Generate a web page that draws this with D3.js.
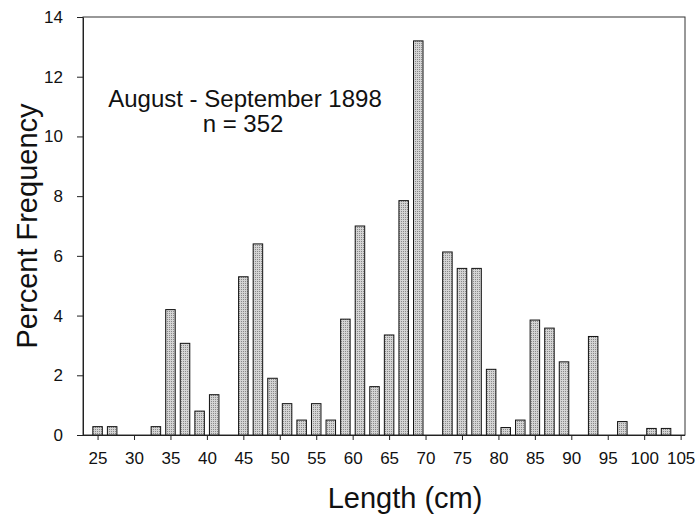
<!DOCTYPE html>
<meta charset="utf-8">
<style>
  body { margin: 0; background: #fff; }
  text { font-family: "Liberation Sans", Arial, sans-serif; fill: #111; }
  .bar { fill: url(#stipple); stroke: #111; stroke-width: 1px; }
  .axis path, .axis line { stroke: #222; }
</style>
<body>
<script src="https://d3js.org/d3.v7.min.js"></script>
<script>
  // length classes (cm) and percent frequency
  var lengths = [25, 27, 29, 31, 33, 35, 37, 39, 41, 43, 45, 47, 49, 51, 53, 55, 57, 59, 61, 63,
    65, 67, 69, 71, 73, 75, 77, 79, 81, 83, 85, 87, 89, 91, 93, 95, 97, 99, 101, 103];
  var percents = [0.28, 0.28, 0, 0, 0.28, 4.2, 3.07, 0.8, 1.35, 0, 5.3, 6.4, 1.9, 1.05, 0.5, 1.05, 0.5, 3.88, 7.0, 1.62,
    3.35, 7.85, 13.2, 0, 6.13, 5.58, 5.58, 2.2, 0.25, 0.5, 3.85, 3.58, 2.45, 0, 3.3, 0, 0.45, 0, 0.22, 0.22];
  var xTicks = [25, 30, 35, 40, 45, 50, 55, 60, 65, 70, 75, 80, 85, 90, 95, 100, 105];
  var yTicks = [0, 2, 4, 6, 8, 10, 12, 14];

  var data = lengths.map(function(d, i) {
    return { len: d, pct: percents[i] };
  });

  var margin = { top: 17, right: 14, bottom: 81, left: 83 },
    width = 699 - margin.left - margin.right,
    height = 516 - margin.top - margin.bottom;

  var x = d3.scaleLinear().domain([23, 105.6]).range([0, width]);
  var y = d3.scaleLinear().domain([0, 14]).range([height, 0]);
  var barW = 9.5;

  var svg = d3.select("body").append("svg")
    .attr("width", 699)
    .attr("height", 516);

  // stipple fill like the scanned print
  var pat = svg.append("defs").append("pattern")
    .attr("id", "stipple")
    .attr("width", 2).attr("height", 2)
    .attr("patternUnits", "userSpaceOnUse");
  pat.append("rect").attr("width", 2).attr("height", 2).attr("fill", "#d4d4d4");
  pat.append("rect").attr("width", 1).attr("height", 1).attr("fill", "#8a8a8a");

  var g = svg.append("g")
    .attr("transform", "translate(" + margin.left + "," + margin.top + ")");

  // frame
  g.append("rect")
    .attr("width", width)
    .attr("height", height)
    .attr("fill", "none")
    .attr("stroke", "#333")
    .attr("stroke-width", 1);

  g.selectAll(".bar")
    .data(data.filter(function(d) { return d.pct > 0; }))
    .enter().append("rect")
    .attr("class", "bar")
    .attr("x", function(d) { return x(d.len) - barW / 2; })
    .attr("y", function(d) { return y(d.pct); })
    .attr("width", barW)
    .attr("height", function(d) { return y(0) - y(d.pct); });

  // X axis
  var xAxis = g.append("g")
    .attr("class", "axis")
    .attr("transform", "translate(0," + height + ")")
    .call(d3.axisBottom(x).tickValues(xTicks).tickSize(5).tickSizeOuter(0).tickPadding(12));
  xAxis.select(".domain").attr("d", "M-5,0.5H" + width);
  xAxis.selectAll("text").style("font-size", "17px");

  // Y axis
  var yAxis = g.append("g")
    .attr("class", "axis")
    .call(d3.axisLeft(y).tickValues(yTicks).tickSize(6).tickSizeOuter(0).tickPadding(14));
  yAxis.selectAll("text").style("font-size", "17px");

  // axis titles
  svg.append("text")
    .attr("x", 405)
    .attr("y", 508)
    .attr("text-anchor", "middle")
    .style("font-size", "29px")
    .text("Length (cm)");

  svg.append("text")
    .attr("transform", "translate(37,226) rotate(-90)")
    .attr("text-anchor", "middle")
    .style("font-size", "29px")
    .text("Percent Frequency");

  // annotation
  svg.append("text")
    .attr("x", 245)
    .attr("y", 107)
    .attr("text-anchor", "middle")
    .style("font-size", "24px")
    .text("August - September 1898");
  svg.append("text")
    .attr("x", 243)
    .attr("y", 132)
    .attr("text-anchor", "middle")
    .style("font-size", "24px")
    .text("n = 352");
</script>
</body>
